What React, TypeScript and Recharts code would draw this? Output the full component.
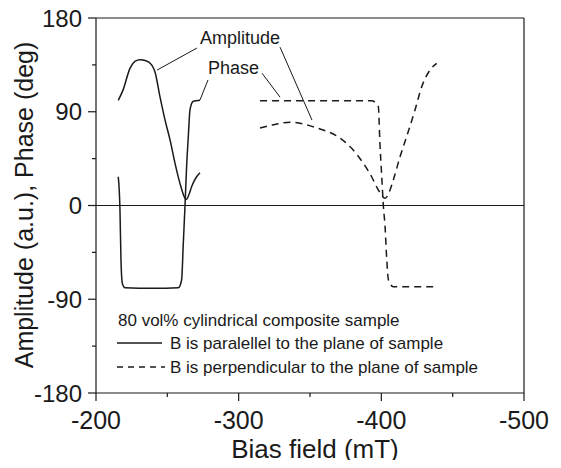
import React from 'react';
import { LineChart, Line, XAxis, YAxis, ReferenceLine } from 'recharts';

// Parallel field (solid)
const parAmpField = [-215.6, -219, -223.8, -227.5, -230.8, -235, -239, -241.4, -244.9, -248.4, -251.9, -255.4, -258.9, -262.4, -263.5, -265.3, -267, -270.5, -272.9];
const parAmpValue = [101, 111, 131.7, 138.5, 140, 139, 135, 128, 104, 82, 63, 40.5, 21, 7, 6, 11, 18, 27.6, 31.5];
const parPhaseField = [-215.6, -216.8, -217.5, -218.5, -220.3, -240, -257.7, -260, -261.2, -262.4, -263.5, -264.7, -265.9, -268.2, -272.9];
const parPhaseValue = [27.6, -4, -52, -75, -79, -79.5, -79, -71.5, -36, 0, 37, 66, 92, 100, 101];

// Perpendicular field (dashed)
const perpAmpField = [-315, -326, -336, -347.9, -357, -368.9, -379.2, -387.4, -393.2, -397.9, -402.6, -406.1, -408.4, -413.1, -417.7, -423.6, -428.3, -434.1, -438.8];
const perpAmpValue = [74.4, 78, 80, 77.3, 73.4, 66.7, 54.9, 40.5, 27.6, 14.9, 6.9, 14.9, 24.5, 46.8, 66, 91.7, 114, 130, 136.5];
const perpPhaseField = [-315, -340, -370, -393.2, -397.9, -399, -400.3, -401.4, -402.6, -403.8, -405, -408.4, -420, -438.8];
const perpPhaseValue = [100.5, 100.5, 100.5, 100.5, 95, 60, 27.6, 0, -20, -52, -71.5, -78, -78, -78];

const xTicks = [-200, -250, -300, -350, -400, -450, -500];
const xMajor = [-200, -300, -400, -500];
const yTicks = [-180, -135, -90, -45, 0, 45, 90, 135, 180];
const yMajor = [-180, -90, 0, 90, 180];

// leader lines [x1, y1, x2, y2] in data units
const ampLeaderSolid = [-270.8, 151.2, -242.8, 130];
const ampLeaderDashed = [-329, 152, -351.4, 82];
const phaseLeaderSolid = [-278.5, 120.5, -272.9, 101.3];
const phaseLeaderDashed = [-316.4, 127, -329, 104];

const zip = (xs: number[], ys: number[]) => xs.map((x, i) => ({ x, y: ys[i] }));
const parAmp = zip(parAmpField, parAmpValue);
const parPhase = zip(parPhaseField, parPhaseValue);
const perpAmp = zip(perpAmpField, perpAmpValue);
const perpPhase = zip(perpPhaseField, perpPhaseValue);

const INK = '#1a1a1a';
const FONT = '"Liberation Sans", Arial, Helvetica, sans-serif';

const XTick = (props: any) => {
  const { x, y, payload } = props;
  const v = payload.value;
  const major = xMajor.includes(v);
  return (
    <g>
      <line x1={x} x2={x} y1={y} y2={y + (major ? 8 : 4)} stroke={INK} strokeWidth={1.2} />
      {major && (
        <text x={x} y={y + 36} textAnchor="middle" fontSize={25} fontFamily={FONT} fill={INK}>
          {v}
        </text>
      )}
    </g>
  );
};

const YTick = (props: any) => {
  const { x, y, payload } = props;
  const v = payload.value;
  const major = yMajor.includes(v);
  return (
    <g>
      <line x1={x - (major ? 8 : 4)} x2={x} y1={y} y2={y} stroke={INK} strokeWidth={1.2} />
      {major && (
        <text x={x - 14} y={y + 8.5} textAnchor="end" fontSize={24} fontFamily={FONT} fill={INK}>
          {v}
        </text>
      )}
    </g>
  );
};

const seg = (s: number[]) => [{ x: s[0], y: s[1] }, { x: s[2], y: s[3] }];

export default function App() {
  const W = 545;
  const H = 460;
  const dy = 8;
  return (
    <div style={{ position: 'relative', width: W, height: H, marginTop: -8 }}>
      <LineChart width={W} height={H} margin={{ top: 18, right: 29, left: 0, bottom: 0 }}>
        <XAxis
          type="number"
          dataKey="x"
          domain={[-500, -200]}
          reversed
          ticks={xTicks}
          interval={0}
          allowDataOverflow
          tickSize={0}
          tickMargin={0}
          tickLine={false}
          tick={(p: any) => <XTick {...p} />}
          height={67}
          axisLine={{ stroke: INK, strokeWidth: 1.2 }}
        />
        <YAxis
          type="number"
          domain={[-180, 180]}
          ticks={yTicks}
          interval={0}
          allowDataOverflow
          tickSize={0}
          tickMargin={0}
          tickLine={false}
          tick={(p: any) => <YTick {...p} />}
          width={88}
          axisLine={{ stroke: INK, strokeWidth: 1.2 }}
        />
        <ReferenceLine y={180} stroke={INK} strokeWidth={1.2} />
        <ReferenceLine x={-500} stroke={INK} strokeWidth={1.2} />
        <ReferenceLine y={0} stroke={INK} strokeWidth={1.2} />
        <ReferenceLine segment={seg(ampLeaderSolid)} stroke={INK} strokeWidth={1} />
        <ReferenceLine segment={seg(ampLeaderDashed)} stroke={INK} strokeWidth={1} />
        <ReferenceLine segment={seg(phaseLeaderSolid)} stroke={INK} strokeWidth={1} />
        <ReferenceLine segment={seg(phaseLeaderDashed)} stroke={INK} strokeWidth={1} />
        <Line data={parAmp} dataKey="y" type="monotone" dot={false} stroke={INK} strokeWidth={1.5} isAnimationActive={false} />
        <Line data={parPhase} dataKey="y" type="monotone" dot={false} stroke={INK} strokeWidth={1.5} isAnimationActive={false} />
        <Line data={perpAmp} dataKey="y" type="monotone" dot={false} stroke={INK} strokeWidth={1.5} strokeDasharray="7 5" isAnimationActive={false} />
        <Line data={perpPhase} dataKey="y" type="monotone" dot={false} stroke={INK} strokeWidth={1.5} strokeDasharray="7 5" isAnimationActive={false} />
      </LineChart>
      <svg
        width={W}
        height={H}
        style={{ position: 'absolute', left: 0, top: 0, pointerEvents: 'none', overflow: 'visible' }}
        fontFamily={FONT}
        fill={INK}
      >
        <g transform={`translate(0 ${dy})`}>
          <text x={192} y={36.4} fontSize={18}>Amplitude</text>
          <text x={200} y={66.4} fontSize={18}>Phase</text>
          <text x={110} y={318} fontSize={17}>80 vol% cylindrical composite sample</text>
          <line x1={109} x2={154} y1={335} y2={335} stroke={INK} strokeWidth={1.3} />
          <text x={162} y={341} fontSize={17}>B is paralellel to the plane of sample</text>
          <line x1={109} x2={157} y1={359} y2={359} stroke={INK} strokeWidth={1.3} strokeDasharray="6 5" />
          <text x={162} y={365} fontSize={17}>B is perpendicular to the plane of sample</text>
          <text x={307} y={450} fontSize={26} textAnchor="middle">Bias field (mT)</text>
          <text x={25} y={197} fontSize={25} textAnchor="middle" transform="rotate(-90 25 197)">
            Amplitude (a.u.), Phase (deg)
          </text>
        </g>
      </svg>
    </div>
  );
}
